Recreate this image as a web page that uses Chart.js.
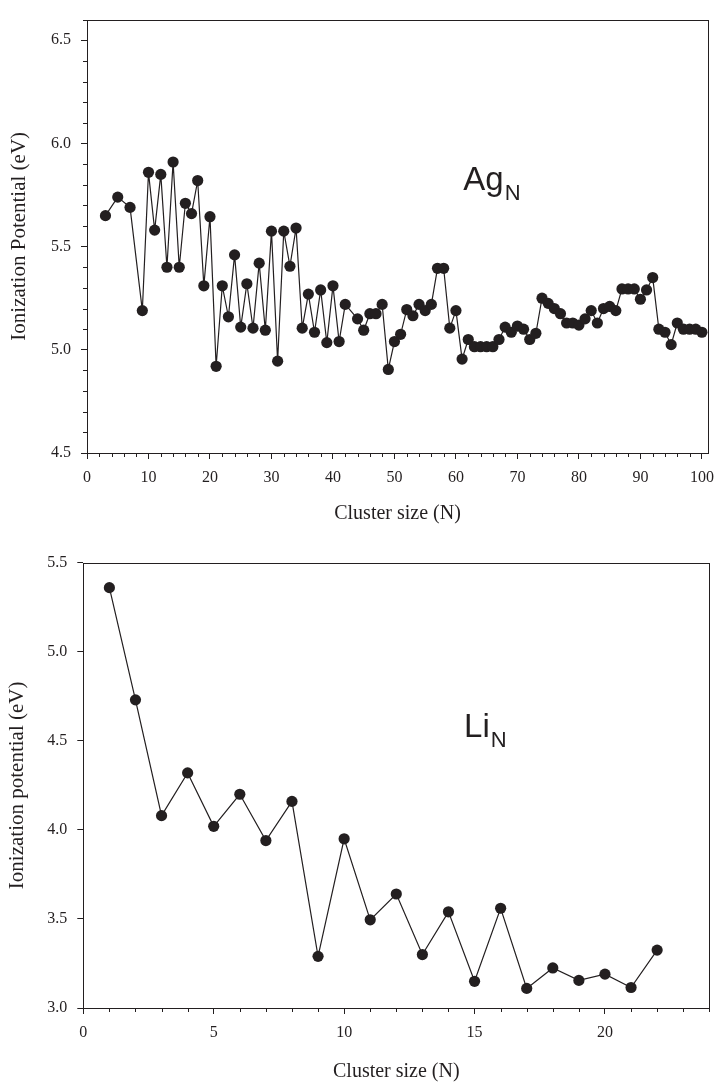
<!DOCTYPE html>
<html>
<head>
<meta charset="utf-8">
<title>Ionization potentials of Ag and Li clusters</title>
<script src="https://cdn.jsdelivr.net/npm/chart.js@4.4.0/dist/chart.umd.min.js"></script>
<style>
  body { margin: 0; background: #fff; }
  #wrap { position: relative; width: 723px; height: 1084px; overflow: hidden; }
  canvas { position: absolute; left: 0; }
  #agChart { top: 0; }
  #liChart { top: 530px; }
</style>
</head>
<body>
<div id="wrap">
  <canvas id="agChart" width="723" height="530"></canvas>
  <canvas id="liChart" width="723" height="554"></canvas>
</div>
<script>
// Silver clusters: size N and ionization potential (eV)
const agSizes = [3, 5, 7, 9, 10, 11, 12, 13, 14, 15, 16, 17, 18, 19, 20, 21, 22, 23, 24, 25,
  26, 27, 28, 29, 30, 31, 32, 33, 34, 35, 36, 37, 38, 39, 40, 41, 42, 44, 45, 46,
  47, 48, 49, 50, 51, 52, 53, 54, 55, 56, 57, 58, 59, 60, 61, 62, 63, 64, 65, 66,
  67, 68, 69, 70, 71, 72, 73, 74, 75, 76, 77, 78, 79, 80, 81, 82, 83, 84, 85, 86,
  87, 88, 89, 90, 91, 92, 93, 94, 95, 96, 97, 98, 99, 100];
const agIP = [5.65, 5.74, 5.69, 5.19, 5.86, 5.58, 5.85, 5.40, 5.91, 5.40, 5.71, 5.66, 5.82, 5.31, 5.645, 4.92, 5.31, 5.16, 5.46, 5.11,
  5.32, 5.105, 5.42, 5.095, 5.575, 4.945, 5.575, 5.405, 5.59, 5.105, 5.27, 5.085, 5.29, 5.035, 5.31, 5.04, 5.22, 5.15, 5.095, 5.175,
  5.175, 5.22, 4.905, 5.04, 5.075, 5.195, 5.165, 5.22, 5.19, 5.22, 5.395, 5.395, 5.105, 5.19, 4.955, 5.05, 5.015, 5.015, 5.015, 5.015,
  5.05, 5.11, 5.085, 5.115, 5.10, 5.05, 5.08, 5.25, 5.225, 5.20, 5.175, 5.13, 5.13, 5.12, 5.15, 5.19, 5.13, 5.20, 5.21, 5.19,
  5.295, 5.295, 5.295, 5.245, 5.29, 5.35, 5.10, 5.085, 5.025, 5.13, 5.10, 5.10, 5.10, 5.085];

// Lithium clusters
const liSizes = [1, 2, 3, 4, 5, 6, 7, 8, 9, 10, 11, 12, 13, 14, 15, 16, 17, 18, 19, 20, 21, 22];
const liIP = [5.36, 4.73, 4.08, 4.32, 4.02, 4.20, 3.94, 4.16, 3.29, 3.95, 3.495,
  3.64, 3.30, 3.54, 3.15, 3.56, 3.11, 3.225, 3.155, 3.19, 3.115, 3.325];

// Axis ticks
const agXTicks = [0, 10, 20, 30, 40, 50, 60, 70, 80, 90, 100];
const agYTicks = [4.5, 5.0, 5.5, 6.0, 6.5];
const liXTicks = [0, 5, 10, 15, 20];
const liYTicks = [3.0, 3.5, 4.0, 4.5, 5.0, 5.5];

const INK = '#231f20';
const SERIF = "'Liberation Serif', 'Times New Roman', serif";
const SANS = "'Liberation Sans', Arial, sans-serif";

// frame around the plot area
const frame = {
  id: 'frame',
  afterDraw(chart) {
    const a = chart.chartArea, ctx = chart.ctx;
    ctx.save();
    ctx.strokeStyle = INK;
    ctx.lineWidth = 1;
    ctx.strokeRect(Math.round(a.left) + 0.5, Math.round(a.top) + 0.5,
      Math.round(a.right - a.left), Math.round(a.bottom - a.top));
    ctx.restore();
  }
};

// short unlabelled ticks between the major ones
const minorTicks = {
  id: 'minorTicks',
  afterDraw(chart, args, opts) {
    const ctx = chart.ctx, a = chart.chartArea;
    ctx.save();
    ctx.strokeStyle = INK;
    ctx.lineWidth = 1;
    ['x', 'y'].forEach(id => {
      const step = opts[id];
      if (!step) return;
      const s = chart.scales[id];
      const majors = s.ticks.map(t => t.value);
      const i0 = Math.ceil(s.min / step - 1e-6), i1 = Math.floor(s.max / step + 1e-6);
      for (let i = i0; i <= i1; i++) {
        const v = i * step;
        if (majors.some(m => Math.abs(m - v) < step / 10)) continue;
        const p = Math.round(s.getPixelForValue(v)) + 0.5;
        ctx.beginPath();
        if (id === 'x') {
          ctx.moveTo(p, a.bottom);
          ctx.lineTo(p, a.bottom + opts.len);
        } else {
          ctx.moveTo(a.left, p);
          ctx.lineTo(a.left - opts.len, p);
        }
        ctx.stroke();
      }
    });
    ctx.restore();
  }
};

// element name with a subscript N, placed in data coordinates
const speciesLabel = {
  id: 'speciesLabel',
  afterDraw(chart, args, opts) {
    const ctx = chart.ctx;
    const x = chart.scales.x.getPixelForValue(opts.x);
    const y = chart.scales.y.getPixelForValue(opts.y);
    ctx.save();
    ctx.fillStyle = INK;
    ctx.textBaseline = 'alphabetic';
    ctx.font = `${opts.size}px ${SANS}`;
    ctx.fillText(opts.text, x, y);
    const w = ctx.measureText(opts.text).width;
    ctx.font = `${Math.round(opts.size * 0.66)}px ${SANS}`;
    ctx.fillText('N', x + w + 1, y + opts.size * 0.3);
    ctx.restore();
  }
};

function makeChart(canvasId, sizes, values, cfg) {
  const points = sizes.map((n, i) => ({ x: n, y: values[i] }));
  return new Chart(document.getElementById(canvasId), {
    type: 'scatter',
    data: {
      datasets: [{
        data: points,
        showLine: true,
        borderColor: INK,
        borderWidth: 1.2,
        pointRadius: 5.6,
        pointBackgroundColor: INK,
        pointBorderWidth: 0,
        pointHoverRadius: 5.6
      }]
    },
    options: {
      responsive: false,
      animation: false,
      devicePixelRatio: 1,
      layout: { padding: cfg.padding },
      plugins: {
        legend: { display: false },
        tooltip: { enabled: false },
        minorTicks: { x: cfg.minorX, y: cfg.minorY, len: 4 },
        speciesLabel: cfg.label
      },
      scales: {
        x: {
          type: 'linear',
          min: cfg.xMin, max: cfg.xMax,
          afterBuildTicks: s => { s.ticks = cfg.xTicks.map(v => ({ value: v })); },
          afterFit: s => { s.height = cfg.xHeight; },
          grid: { drawOnChartArea: false, drawTicks: true, tickLength: 6, tickColor: INK },
          border: { display: false },
          ticks: {
            color: INK, padding: 9, maxRotation: 0, autoSkip: false,
            font: { family: SERIF, size: 16 },
            callback: v => String(v)
          },
          title: {
            display: true, text: 'Cluster size (N)', color: INK,
            font: { family: SERIF, size: 20 },
            padding: { top: 0, bottom: cfg.xTitlePad }
          }
        },
        y: {
          type: 'linear',
          min: cfg.yMin, max: cfg.yMax,
          afterBuildTicks: s => { s.ticks = cfg.yTicks.map(v => ({ value: v })); },
          afterFit: s => { s.width = cfg.yWidth; },
          grid: { drawOnChartArea: false, drawTicks: true, tickLength: 6, tickColor: INK },
          border: { display: false },
          ticks: {
            color: INK, padding: 10, autoSkip: false,
            font: { family: SERIF, size: 16 },
            callback: v => Number(v).toFixed(1)
          },
          title: {
            display: true, text: cfg.yTitle, color: INK,
            font: { family: SERIF, size: 21 },
            padding: { top: cfg.yTitlePad, bottom: 0 }
          }
        }
      }
    },
    plugins: [frame, minorTicks, speciesLabel]
  });
}

makeChart('agChart', agSizes, agIP, {
  padding: { left: 0, right: 10, top: 14, bottom: 0 },
  xMin: 0, xMax: 101, yMin: 4.5, yMax: 6.6,
  xTicks: agXTicks, yTicks: agYTicks,
  minorX: 2, minorY: 0.1,
  xHeight: 77, yWidth: 87,
  xTitlePad: 4,
  yTitle: 'Ionization Potential (eV)', yTitlePad: 7,
  label: { text: 'Ag', x: 61.2, y: 5.775, size: 33 }
});

makeChart('liChart', liSizes, liIP, {
  padding: { left: 0, right: 13.7, top: 32.7, bottom: 0 },
  xMin: 0, xMax: 24, yMin: 3.0, yMax: 5.5,
  xTicks: liXTicks, yTicks: liYTicks,
  minorX: 1, minorY: 0,
  xHeight: 76, yWidth: 83.3,
  xTitlePad: 0,
  yTitle: 'Ionization potential (eV)', yTitlePad: 5,
  label: { text: 'Li', x: 14.6, y: 4.52, size: 33 }
});
</script>
</body>
</html>
